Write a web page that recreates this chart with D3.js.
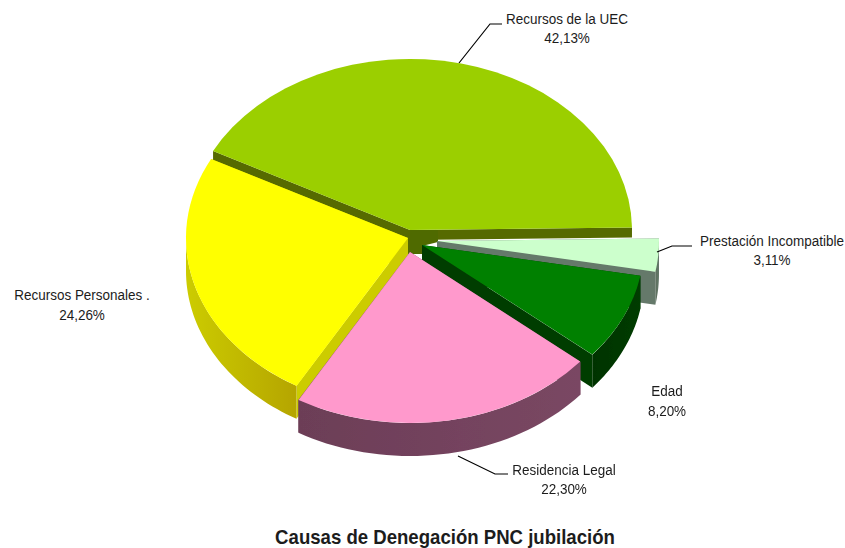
<!DOCTYPE html>
<html><head><meta charset="utf-8">
<script src="https://cdn.jsdelivr.net/npm/d3@7/dist/d3.min.js"></script>
<style>html,body{margin:0;background:#fff}svg{display:block}text{font-family:"Liberation Sans",Arial,sans-serif;fill:#1c1c1c}</style>
</head><body><svg id="c" width="845" height="548"></svg>
<script>
const categories = ["Recursos de la UEC","Prestación Incompatible","Edad","Residencia Legal","Recursos Personales ."];
const shares = [42.13,3.11,8.20,22.30,24.26];
const topColors = ["#9bcf00","#ccffcc","#008000","#ff99cc","#ffff00"];
const wallColors = ["#566b00","#65796a","#003c00","#7a4763","#cccc00"];
const wallEnds = ["#566b00","#5b6f5e","#003300","#6c3e57","#b5a500"];
const title = "Causas de Denegación PNC jubilación";

const rx = 222, ry = 171, depth = 33;
const apexes = [[410,230],[437,241],[422,245],[410,252],[408,238]];
const labelAt = [[567,24,43],[772,246,265],[667,396,416],[564,475,494],[82,300,320]];
const leaders = [
  [[459,63],[490,24],[502,24]],
  [[657,252],[672,246],[692,246]],
  null,
  [[458,456],[495,474],[508,474]],
  null];
const endWallDepth = [10,depth,depth,depth,depth];
const coreOutline = [[410,230],[438,230],[438,242],[422,246],[422,254],[410,254]];
const order = [0,1,2,4,3];

const svg = d3.select("#c");
const pie = d3.pie().sort(null).value(d=>d).startAngle(-62.5*Math.PI/180).endAngle((360-62.5)*Math.PI/180);
const arcs = pie(shares);
const unit = d3.arc().innerRadius(0).outerRadius(1);
const line = d3.line();
const pt = (a,i,dy=0)=>[apexes[i][0]+rx*Math.sin(a),apexes[i][1]-ry*Math.cos(a)+dy];

const defs = svg.append("defs");
defs.append("filter").attr("id","soft").append("feGaussianBlur").attr("stdDeviation",0.45);
const g = svg.append("g").attr("filter","url(#soft)");

order.forEach(i=>{
  const d = arcs[i], [ax,ay] = apexes[i];
  [[d.startAngle,depth],[d.endAngle,endWallDepth[i]]].forEach(([a,h])=>{
    const p = pt(a,i);
    g.append("path").attr("fill",wallColors[i])
      .attr("d",line([[ax,ay],p,[p[0],p[1]+h],[ax,ay+h]])+"Z");
  });
  if(i===0) g.append("path").attr("fill","#4f6a00").attr("d",line(coreOutline)+"Z");
  const a0 = Math.max(d.startAngle,Math.PI/2), a1 = Math.min(d.endAngle,1.5*Math.PI);
  if(a1>a0){
    const grad = defs.append("linearGradient").attr("id","w"+i);
    const flip = (a0+a1)/2>Math.PI;
    grad.append("stop").attr("offset",0).attr("stop-color",flip?wallColors[i]:wallEnds[i]);
    grad.append("stop").attr("offset",1).attr("stop-color",flip?wallEnds[i]:wallColors[i]);
    const ts = d3.range(41).map(k=>a0+(a1-a0)*k/40);
    const band = ts.map(a=>pt(a,i)).concat(ts.slice().reverse().map(a=>pt(a,i,depth)));
    g.append("path").attr("fill","url(#w"+i+")").attr("d",line(band)+"Z");
  }
  g.append("path").attr("fill",topColors[i])
    .attr("transform",`translate(${ax},${ay}) scale(${rx},${ry})`)
    .attr("d",unit(d));
});

categories.forEach((c,i)=>{
  const [x,y1,y2] = labelAt[i];
  const t = svg.append("text").attr("text-anchor","middle").attr("font-size",15.5)
    .attr("transform",`translate(${x},0) scale(0.87,1)`);
  t.append("tspan").attr("x",0).attr("y",y1).text(c);
  t.append("tspan").attr("x",0).attr("y",y2).text(d3.format(".2f")(shares[i]).replace(".",",")+"%");
  if(leaders[i]) svg.append("path").attr("fill","none").attr("stroke","#000").attr("stroke-width",1.2).attr("d",line(leaders[i]));
});
svg.append("text").attr("transform","translate(445,544) scale(0.93,1)").attr("text-anchor","middle")
  .attr("font-size",20).attr("font-weight","bold").text(title);
</script></body></html>
